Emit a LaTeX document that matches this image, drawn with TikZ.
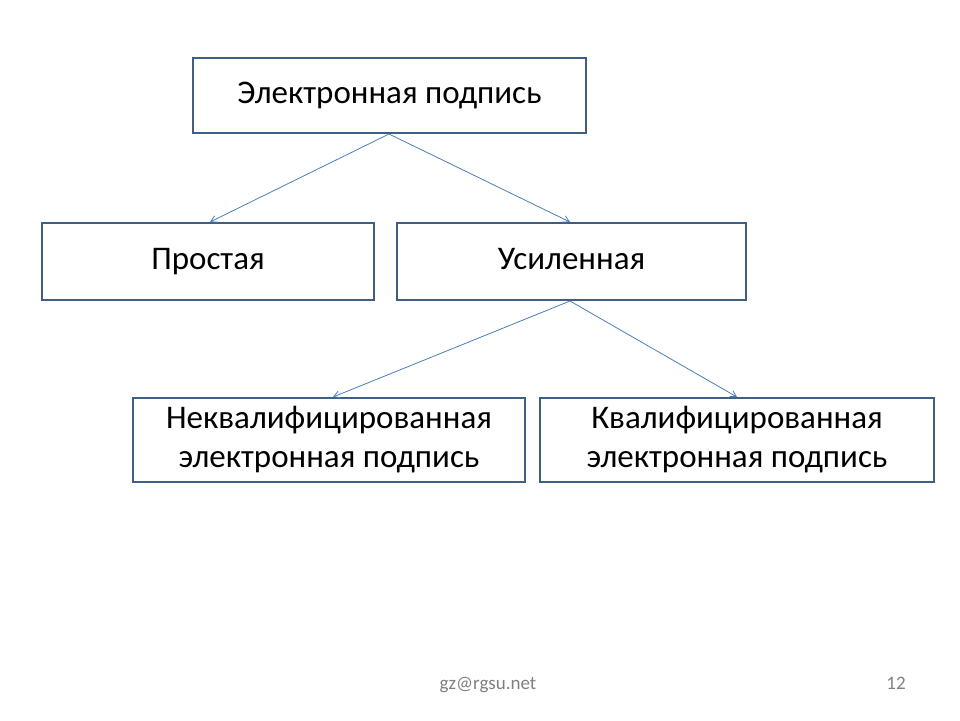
\documentclass[tikz,border=0pt]{standalone}
\usepackage{fontspec}
\setmainfont{Carlito}
\usetikzlibrary{arrows.meta}
\begin{document}
\begin{tikzpicture}[x=1pt,y=-1pt,
  box/.style={draw=boxc,line width=2pt,fill=white,inner sep=0pt,align=center,font=\fontsize{33}{39}\selectfont},
  arr/.style={draw=arrc,line width=0.8pt,-{Straight Barb[length=6pt,width=7pt]}}]
\definecolor{boxc}{HTML}{3F5E82}
\definecolor{arrc}{HTML}{4A7EBB}
\useasboundingbox[fill=white] (0,0) rectangle (960,720);
\node[box,minimum width=393pt,minimum height=75pt] (top) at (389.5,95.5) {\strut Электронная подпись};
\node[box,minimum width=332pt,minimum height=77pt] (s) at (208,261.5) {\strut Простая};
\node[box,minimum width=349pt,minimum height=77pt] (u) at (571.5,261.5) {\strut Усиленная};
\node[box,minimum width=392pt,minimum height=84pt] (n) at (329,440) {Неквалифицированная\\электронная подпись};
\node[box,minimum width=394pt,minimum height=84pt] (k) at (737,440) {Квалифицированная\\электронная подпись};
\coordinate (t1) at (389,134);
\coordinate (u1) at (570,301);
\draw[arr] (t1) -- (210,222);
\draw[arr] (t1) -- (570,222);
\draw[arr] (u1) -- (333,397);
\draw[arr] (u1) -- (737,397);
\node[text=gray,font=\fontsize{19}{22}\selectfont] (f) at (488,685) {\strut gz@rgsu.net};
\node[text=gray,font=\fontsize{19}{22}\selectfont] (p) at (896,685) {\strut 12};
\end{tikzpicture}
\end{document}
